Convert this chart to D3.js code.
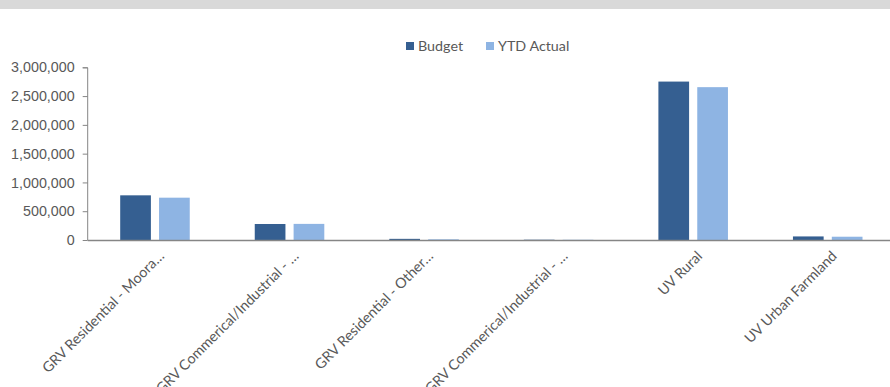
<!DOCTYPE html>
<html>
<head>
<meta charset="utf-8">
<script src="https://cdn.jsdelivr.net/npm/d3@7"></script>
<style>
  body { margin: 0; background: #fff; }
  svg { display: block; font-family: Lato, "Open Sans", sans-serif; }
</style>
</head>
<body>
<div id="chart"></div>
<script>
const categories = [
    "GRV Residential - Moora…",
    "GRV Commerical/Industrial - …",
    "GRV Residential - Other…",
    "GRV Commerical/Industrial - …",
    "UV Rural",
    "UV Urban Farmland"
];
const budget = [776000, 278000, 20000, 5000, 2752000, 62000];
const ytdActual = [735000, 280000, 12000, 4000, 2655000, 57000];
const seriesNames = ["Budget", "YTD Actual"];
const colors = ["#355f91", "#8eb4e3"];
const yTicks = [0, 500000, 1000000, 1500000, 2000000, 2500000, 3000000];

const width = 890, height = 387;
const margin = {left: 87.7, right: -5, top: 67.3, bottom: 147};
const fontSize = "14.3px";

const svg = d3.select("#chart").append("svg")
    .attr("width", width)
    .attr("height", height);

// grey strip at the top
svg.append("rect")
    .attr("x", 0).attr("y", 0)
    .attr("width", width).attr("height", 9)
    .attr("fill", "#d9d9d9");

const plotArea = svg.append("g")
    .attr("transform", "translate(" + margin.left + "," + margin.top + ")");

const plotW = width - margin.left - margin.right;
const plotH = height - margin.top - margin.bottom;

const x = d3.scaleBand()
    .domain(d3.range(categories.length))
    .range([0, plotW]);
const inner = d3.scaleBand()
    .domain([0, 1])
    .range([32.5, x.bandwidth() - 32.5])
    .paddingInner(0.21);
const y = d3.scaleLinear()
    .domain([0, 3000000])
    .range([plotH, 0]);

// y axis
const yAxis = plotArea.append("g")
    .call(d3.axisLeft(y).tickValues(yTicks).tickSize(5).tickPadding(8)
        .tickFormat(d3.format(",")));
yAxis.selectAll("text")
    .attr("fill", "#595959")
    .style("font-size", fontSize);
yAxis.selectAll("line, path").attr("stroke", "#868686");
yAxis.select(".domain").attr("d", "M0," + plotH + "V0.5H-5");

// bars
const rows = categories.map((c, i) => [budget[i], ytdActual[i]]);
const groups = plotArea.selectAll("g.grp")
    .data(rows)
    .enter().append("g")
    .attr("class", "grp")
    .attr("transform", (d, i) => "translate(" + x(i) + ",0)");
groups.selectAll("rect")
    .data(d => d)
    .enter().append("rect")
    .attr("x", (d, j) => inner(j))
    .attr("width", inner.bandwidth())
    .attr("y", d => y(d))
    .attr("height", d => plotH - y(d))
    .attr("fill", (d, j) => colors[j]);

// x axis
plotArea.append("line")
    .attr("x1", 0).attr("x2", plotW)
    .attr("y1", plotH + 0.5).attr("y2", plotH + 0.5)
    .attr("stroke", "#868686")
    .attr("stroke-width", 1.5);

plotArea.selectAll("text.xlab")
    .data(categories)
    .enter().append("text")
    .attr("class", "xlab")
    .attr("transform", (d, i) => "translate(" + (x(i) + x.bandwidth() / 2 + 10) + "," + (plotH + 17) + ") rotate(-45)")
    .attr("text-anchor", "end")
    .attr("fill", "#595959")
    .style("font-size", fontSize)
    .text(d => d);

// legend
const legend = svg.append("g").attr("transform", "translate(406,42)");
const lx = [0, 80];
seriesNames.forEach((name, i) => {
    legend.append("rect")
        .attr("x", lx[i]).attr("y", 0)
        .attr("width", 8).attr("height", 8)
        .attr("fill", colors[i]);
    legend.append("text")
        .attr("x", lx[i] + 12).attr("y", 9)
        .attr("fill", "#595959")
        .style("font-size", fontSize)
        .text(name);
});
</script>
</body>
</html>
